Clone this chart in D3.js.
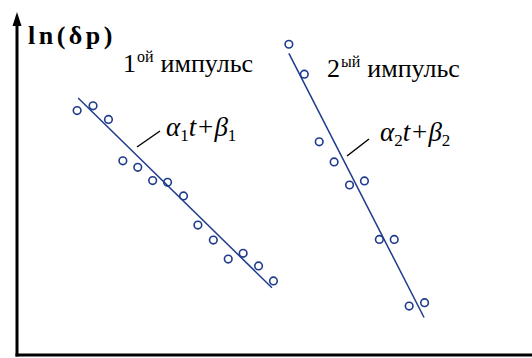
<!DOCTYPE html>
<html>
<head>
<meta charset="utf-8">
<script src="https://cdn.jsdelivr.net/npm/d3@7"></script>
<style>
  body { margin: 0; background: #fff; }
  #wrap { position: relative; width: 532px; height: 358px; }
  #wrap svg { position: absolute; left: 0; top: 0; }
  .lbl { position: absolute; white-space: nowrap; line-height: 1.107;
         font-family: "Liberation Serif", serif; color: #000; }
  .sup, .sub { position: relative; }
</style>
</head>
<body>
<div id="wrap"><svg id="fig" width="532" height="358"></svg></div>
<script>
// Pulse 1: measured ln(δp) against time
const pulse1T = [11.5, 14.6, 17.6, 20.4, 23.3, 26.2, 29.1, 32.2, 35.0, 38.0, 40.9, 43.8, 46.8, 49.7];
const pulse1V = [7.19, 7.33, 6.93, 5.71, 5.52, 5.13, 5.08, 4.68, 3.82, 3.38, 2.82, 2.99, 2.62, 2.18];
// Pulse 2
const pulse2T = [52.7, 55.7, 58.6, 61.5, 64.5, 67.4, 70.3, 73.2, 76.1, 79.1];
const pulse2V = [9.14, 8.26, 6.27, 5.68, 5.00, 5.12, 3.40, 3.40, 1.44, 1.54];
// Linear fits a*t + b and the time span each is drawn over
const fit1 = { a: -0.148, b: 9.29, t0: 11.7, t1: 49.4 };
const fit2 = { a: -0.2954, b: 24.44, t0: 52.7, t1: 79.0 };

const svg = d3.select("#fig");
const wrap = d3.select("#wrap");
const W = 532;
const x0 = 17, yBase = 355, yTop = 15;

const x = d3.scaleLinear().domain([0, 100]).range([18, 532]);
const y = d3.scaleLinear().domain([0, 10]).range([355, 15]);

const blue = "#1f3b8c";

// Axes
svg.append("line").attr("x1", x0).attr("y1", yBase + 1.5).attr("x2", x0).attr("y2", yTop + 8)
  .attr("stroke", "#000").attr("stroke-width", 3);
svg.append("path").attr("d", `M${x0},${yTop - 3} L${x0 - 4.5},${yTop + 11} L${x0 + 4.5},${yTop + 11} Z`)
  .attr("fill", "#000");
svg.append("line").attr("x1", x0 - 1.5).attr("y1", yBase).attr("x2", W).attr("y2", yBase)
  .attr("stroke", "#000").attr("stroke-width", 3);

// Fit lines
function drawFit(f) {
  svg.append("line")
    .attr("x1", x(f.t0)).attr("y1", y(f.a * f.t0 + f.b))
    .attr("x2", x(f.t1)).attr("y2", y(f.a * f.t1 + f.b))
    .attr("stroke", blue).attr("stroke-width", 1.5);
}
drawFit(fit1);
drawFit(fit2);

// Points
function drawPoints(ts, vs) {
  svg.append("g").selectAll("circle").data(ts).join("circle")
    .attr("cx", (d) => x(d)).attr("cy", (d, i) => y(vs[i]))
    .attr("r", 3.8).attr("fill", "none").attr("stroke", blue).attr("stroke-width", 1.6);
}
drawPoints(pulse1T, pulse1V);
drawPoints(pulse2T, pulse2V);

// Labels: HTML blocks placed so their baseline lands at (bx, by)
function label(bx, by, size) {
  return wrap.append("div").attr("class", "lbl")
    .style("left", bx + "px")
    .style("top", (by - 0.891 * size) + "px")
    .style("font-size", size + "px");
}

// Y-axis title
label(28, 45, 26).style("font-weight", "bold").style("letter-spacing", "3.5px").text("ln(δp)");

// Pulse titles with superscript ordinal suffix
function pulseTitle(bx, by, num, suf) {
  const d = label(bx, by, 26);
  d.append("span").text(num);
  d.append("span").attr("class", "sup").style("font-size", "16px").style("top", "-10px")
    .style("margin-left", "1px").text(suf);
  d.append("span").style("margin-left", "7px").text("импульс");
}
pulseTitle(123, 73, "1", "ой");
pulseTitle(327, 78, "2", "ый");

// Fit-equation labels with leader lines
function fitLabel(lx1, ly1, lx2, ly2, bx, by, k) {
  svg.append("line").attr("x1", lx1).attr("y1", ly1).attr("x2", lx2).attr("y2", ly2)
    .attr("stroke", "#000").attr("stroke-width", 1.5);
  const d = label(bx, by, 27).style("font-style", "italic");
  d.append("span").text("α");
  d.append("span").attr("class", "sub").style("font-style", "normal").style("font-size", "17px")
    .style("top", "5px").text(k);
  d.append("span").text("t+β");
  d.append("span").attr("class", "sub").style("font-style", "normal").style("font-size", "17px")
    .style("top", "5px").text(k);
}
fitLabel(137, 147, 160, 131, 166, 137, "1");
fitLabel(347, 156, 369, 139, 380, 142, "2");
</script>
</body>
</html>
